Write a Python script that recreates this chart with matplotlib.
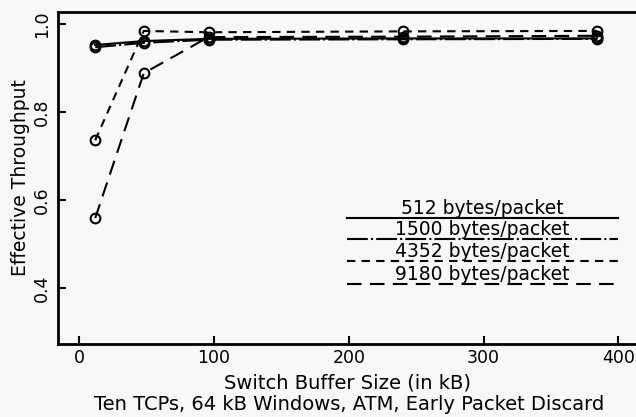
import matplotlib
matplotlib.use("Agg")
import matplotlib.pyplot as plt

buffer_kb = [12, 48, 96, 240, 384]
tp_512 = [0.952, 0.961, 0.966, 0.967, 0.967]
tp_1500 = [0.947, 0.957, 0.964, 0.965, 0.966]
tp_4352 = [0.736, 0.984, 0.981, 0.983, 0.984]
tp_9180 = [0.559, 0.888, 0.970, 0.971, 0.973]
series_labels = ["512 bytes/packet", "1500 bytes/packet", "4352 bytes/packet", "9180 bytes/packet"]
x_ticks = [0, 100, 200, 300, 400]
y_ticks = [0.4, 0.6, 0.8, 1.0]

bg = "#f7f7f7"
fig = plt.figure(figsize=(6.36, 4.17), dpi=100, facecolor=bg)
ax = fig.add_axes([58/636, (417-344)/417, 578/636, 332/417], facecolor=bg)

styles = ["-", (0, (10, 1.5, 1, 1.5)), (0, (4, 3)), (0, (7, 4))]
series = [tp_512, tp_1500, tp_4352, tp_9180]
for vals, ls in zip(series, styles):
    ax.plot(buffer_kb, vals, color="black", linestyle=ls, linewidth=1.5,
            marker="o", markersize=7, markerfacecolor="none", markeredgewidth=1.5)

ax.set_xlim(-15.6, 413)
ax.set_ylim(0.273, 1.027)
ax.set_xticks(x_ticks)
ax.set_xticklabels([str(v) for v in x_ticks])
ax.set_yticks(y_ticks)
ax.set_yticklabels([f"{v:.1f}" for v in y_ticks], rotation=90, va="center")
ax.tick_params(direction="in", length=6, width=1.5, labelsize=12.5, colors="black")
ax.tick_params(axis="y", pad=5)
for sp in ax.spines.values():
    sp.set_linewidth(2)
ax.spines["right"].set_visible(False)

ax.set_ylabel("Effective Throughput", fontsize=13.5, labelpad=2)

# legend: text over line
leg_y = [0.380, 0.316, 0.250, 0.181]
for lab, ls, yy in zip(series_labels, styles, leg_y):
    ax.plot([0.500, 0.969], [yy, yy], transform=ax.transAxes, color="black",
            linestyle=ls, linewidth=1.5)
    ax.text(0.734, yy + 0.012, lab, transform=ax.transAxes, ha="center",
            va="baseline", fontsize=13.5)

fig.text(348/636, 1 - 383/417, "Switch Buffer Size (in kB)", ha="center", va="center", fontsize=14)
fig.text(349/636, 1 - 405/417, "Ten TCPs, 64 kB Windows, ATM, Early Packet Discard",
         ha="center", va="center", fontsize=14)

fig.savefig("out.png", dpi=100, facecolor=bg)
